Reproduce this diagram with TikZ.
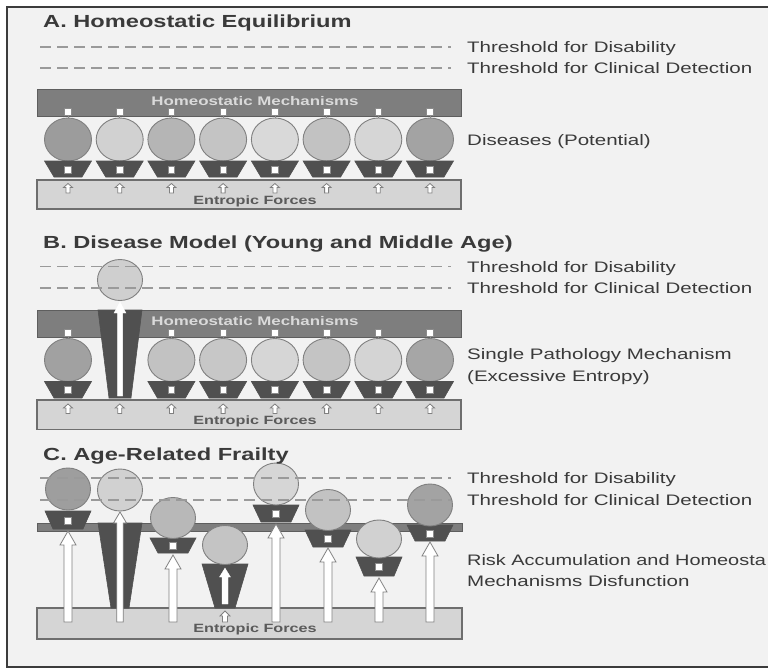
\documentclass[tikz,border=0pt]{standalone}
\usepackage{fontspec}
\newfontfamily\lab[FakeStretch=1.35]{Liberation Sans}
\definecolor{bgc}{HTML}{F2F2F2}
\definecolor{framec}{HTML}{3C3C3C}
\definecolor{hbarc}{HTML}{7E7E7E}
\definecolor{hbarl}{HTML}{5E5E5E}
\definecolor{ebarc}{HTML}{D5D5D5}
\definecolor{ebarl}{HTML}{6E6E6E}
\definecolor{trapc}{HTML}{505050}
\definecolor{circl}{HTML}{808080}
\definecolor{dashc}{HTML}{9A9A9A}
\definecolor{txtc}{HTML}{3A3A3A}
\definecolor{bartxt}{HTML}{DADADA}
\definecolor{etxt}{HTML}{5A5A5A}
\tikzset{
 circ/.style={draw=circl, line width=0.9pt},
 trapst/.style={fill=trapc, draw=trapc, line width=0.6pt},
 knobst/.style={fill=white, draw=black!45, line width=0.6pt},
 hbar/.style={fill=hbarc, draw=hbarl, line width=0.8pt},
 ebar/.style={fill=ebarc, draw=ebarl, line width=1.1pt},
 thr/.style={draw=dashc, line width=1.4pt, dash pattern=on 11pt off 6pt},
 harr/.style={fill=white, draw=black!50, line width=0.8pt, line join=miter},
 warr/.style={fill=white, draw=white, line width=0.3pt},
 ttl/.style={inner sep=0pt, anchor=base west, text=txtc, font=\lab\bfseries\fontsize{17.5}{20}\selectfont},
 lbl/.style={inner sep=0pt, anchor=base west, text=txtc, font=\lab\fontsize{15.2}{18}\selectfont},
 btxt/.style={inner sep=0pt, text=bartxt, font=\lab\bfseries\fontsize{12.5}{14}\selectfont},
 etx/.style={inner sep=0pt, text=etxt, font=\lab\bfseries\fontsize{12}{14}\selectfont},
}
% x, ybottom, ytip, shaft half width, head half width, head length
\newcommand{\hollowarr}[7][harr]{%
 \filldraw[#1] (#2-#5,#3) -- (#2-#5,#4+#7) -- (#2-#6,#4+#7) -- (#2,#4) -- (#2+#6,#4+#7) -- (#2+#5,#4+#7) -- (#2+#5,#3) -- cycle;}
% x, ytop, ybottom, top half width, bottom half width
\newcommand{\trapzd}[5]{\filldraw[trapst] (#1-#4,#2) -- (#1+#4,#2) -- (#1+#5,#3) -- (#1-#5,#3) -- cycle;}
\newcommand{\knb}[2]{\filldraw[knobst] (#1-3.3,#2-3.3) rectangle (#1+3.3,#2+3.3);}
\newcommand{\dz}[5]{\filldraw[circ, fill=#5] (#1,#2) ellipse [x radius=#3, y radius=#4];}
\begin{document}
\begin{tikzpicture}[x=1pt,y=-1pt]
\useasboundingbox (0,0) rectangle (768,669);
\begin{scope}
\clip (0,0) rectangle (768,669);
\fill[white] (0,0) rectangle (768,669);
\fill[bgc] (7,7) rectangle (790,667);
\draw[framec, line width=1.6pt] (790,7) -- (7,7) -- (7,667) -- (790,667);

% ---------------- Panel A ----------------
\filldraw[ebar] (37,180) rectangle (461,209);
\filldraw[hbar] (37,89) rectangle (461,116);
\foreach \x/\g in {68/39,119.7/18,171.4/29,223.1/23,274.9/15,326.6/24,378.3/16,430/36}{
 \draw[black!45, line width=0.6pt] (\x,112) -- (\x,118);
 \knb{\x}{112}
 \dz{\x}{139.5}{23.5}{21.5}{black!\g}
 \trapzd{\x}{161}{177}{23.5}{14}
 \knb{\x}{169.5}
 \hollowarr{\x}{193}{183.5}{2}{4.5}{4}
}
\node[btxt] (hA) at (255,101) {Homeostatic Mechanisms};
\node[etx] (eA) at (255,201) {Entropic Forces};
\draw[thr] (40,47) -- (451,47);
\draw[thr] (40,68) -- (451,68);
\node[ttl] (tA) at (43,28) {A. Homeostatic Equilibrium};
\node[lbl] (dA) at (467,52.4) {Threshold for Disability};
\node[lbl] (cA) at (467,73.4) {Threshold for Clinical Detection};
\node[lbl] (pA) at (467,145) {Diseases (Potential)};

% ---------------- Panel B ----------------
\filldraw[ebar] (37,400) rectangle (461,429.5);
\filldraw[hbar] (37,310) rectangle (461,337);
\foreach \x/\g in {68/37,171.4/24,223.1/22,274.9/16,326.6/23,378.3/17,430/35}{
 \draw[black!45, line width=0.6pt] (\x,333) -- (\x,339);
 \knb{\x}{333}
 \dz{\x}{360}{23.5}{21.5}{black!\g}
 \trapzd{\x}{381.5}{398}{23.5}{14}
 \knb{\x}{390}
}
\foreach \x in {68,119.7,171.4,223.1,274.9,326.6,378.3,430}{
 \hollowarr{\x}{413.5}{404}{2}{4.5}{4}
}
\trapzd{120}{310}{398}{22}{11}
\hollowarr[warr]{120}{396}{302}{2.6}{6}{11}
\dz{120}{280}{22.5}{20.5}{black!19}
\node[btxt] (hB) at (255,321) {Homeostatic Mechanisms};
\node[etx] (eB) at (255,421) {Entropic Forces};
\draw[thr] (40,266.5) -- (451,266.5);
\draw[thr] (40,288) -- (451,288);
\node[ttl] (tB) at (43,248) {B. Disease Model (Young and Middle Age)};
\node[lbl] (dB) at (467,272) {Threshold for Disability};
\node[lbl] (cB) at (467,293.5) {Threshold for Clinical Detection};
\node[lbl] (pB1) at (467,359.5) {Single Pathology Mechanism};
\node[lbl] (pB2) at (467,381) {(Excessive Entropy)};

% ---------------- Panel C ----------------
\filldraw[ebar] (37,608) rectangle (462,639);
\filldraw[hbar] (37,523) rectangle (462,531);
\foreach \x/\t in {68/531,173/555,276/524,328/548,379/578,430/542}{
 \hollowarr{\x}{622}{\t}{4}{8}{14}
}
% column 2: long trapezoid
\trapzd{120}{523}{608}{22}{9}
\hollowarr{120}{622}{512}{3.2}{6.5}{11}
% column 4: tall trapezoid
\hollowarr{225}{622}{611}{2.5}{5}{5}
\trapzd{225}{564}{608}{23}{10}
\hollowarr[warr]{225}{604}{568}{3}{5.5}{9}
% other trapezoids
\foreach \x/\a/\b/\k in {68/511/529/521,173/538/553/546,276/505/522/514,328/530/547/539,379/557/576/567,430/525/541/534}{
 \trapzd{\x}{\a}{\b}{23}{15}
 \knb{\x}{\k}
}
% circles
\dz{68}{489}{22.5}{21}{black!38}
\dz{120}{490}{22.5}{21}{black!18}
\dz{173}{518}{22.5}{20.5}{black!28}
\dz{225}{545}{22.5}{19.5}{black!23}
\dz{276}{484}{22.5}{21}{black!16}
\dz{328}{510}{22.5}{20.5}{black!24}
\dz{379}{539}{22.5}{19}{black!18}
\dz{430}{505}{22.5}{21}{black!36}
\node[etx] (eC) at (255,629.5) {Entropic Forces};
\draw[thr] (40,478) -- (451,478);
\draw[thr] (40,500) -- (451,500);
\node[ttl] (tC) at (43,460) {C. Age-Related Frailty};
\node[lbl] (dC) at (467,483.5) {Threshold for Disability};
\node[lbl] (cC) at (467,505.5) {Threshold for Clinical Detection};
\node[lbl] (pC1) at (467,565.5) {\scalebox{0.97}[1]{Risk Accumulation and Homeosta}};
\node[lbl] (pC2) at (467,586.5) {Mechanisms Disfunction};
\end{scope}
\end{tikzpicture}
\end{document}
